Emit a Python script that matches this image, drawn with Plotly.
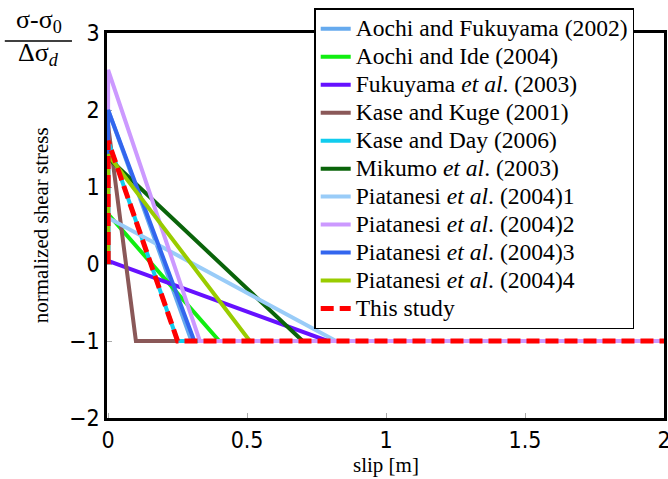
import plotly.graph_objects as go

# ---- data (slip [m], normalized shear stress) ----
names = [
    "Aochi and Fukuyama (2002)",
    "Aochi and Ide (2004)",
    "Fukuyama <i>et al</i>. (2003)",
    "Kase and Kuge (2001)",
    "Kase and Day (2006)",
    "Mikumo <i>et al</i>. (2003)",
    "Piatanesi <i>et al</i>. (2004)1",
    "Piatanesi <i>et al</i>. (2004)2",
    "Piatanesi <i>et al</i>. (2004)3",
    "Piatanesi <i>et al</i>. (2004)4",
    "This study",
]

x_aochi_fukuyama = [0, 0, 0.30, 2.0]
y_aochi_fukuyama = [0, 2.0, -1, -1]
x_aochi_ide = [0, 0, 0.40, 2.0]
y_aochi_ide = [0, 0.65, -1, -1]
x_fukuyama = [0, 0.79, 2.0]
y_fukuyama = [0.04, -1, -1]
x_kase_kuge = [0, 0, 0.10, 2.0]
y_kase_kuge = [0, 1.8, -1, -1]
x_kase_day = [0, 0, 0.25, 2.0]
y_kase_day = [0, 1.6, -1, -1]
x_mikumo = [0, 0, 0.70, 2.0]
y_mikumo = [0, 1.38, -1, -1]
x_piat1 = [0, 0, 0.82, 2.0]
y_piat1 = [0, 0.6, -1, -1]
x_piat2 = [0, 0, 0.33, 2.0]
y_piat2 = [0, 2.52, -1, -1]
x_piat3 = [0, 0, 0.31]
y_piat3 = [0, 2.0, -1]
x_piat4 = [0, 0, 0.51]
y_piat4 = [0, 1.42, -1]
x_this = [0, 0, 0.25, 2.0]
y_this = [0, 1.6, -1, -1]

xs = [x_aochi_fukuyama, x_aochi_ide, x_fukuyama, x_kase_kuge, x_kase_day,
      x_mikumo, x_piat1, x_piat2, x_piat3, x_piat4, x_this]
ys = [y_aochi_fukuyama, y_aochi_ide, y_fukuyama, y_kase_kuge, y_kase_day,
      y_mikumo, y_piat1, y_piat2, y_piat3, y_piat4, y_this]

colors = ["#66aaee", "#11ee11", "#6611ff", "#8a5858", "#11ccee",
          "#0a640a", "#99ccf8", "#cc99ff", "#3366ee", "#99cc00", "#ff0000"]

x_ticks = [0, 0.5, 1, 1.5, 2]
x_tick_labels = ["0", "0.5", "1", "1.5", "2"]
y_ticks = [-2, -1, 0, 1, 2, 3]
y_tick_labels = ["\u22122", "\u22121", "0", "1", "2", "3"]

serif = "Liberation Serif"

fig = go.Figure()
for n, x, y, c in zip(names, xs, ys, colors):
    if n == "This study":
        line = dict(color=c, width=5, dash="13px,6px")
    else:
        line = dict(color=c, width=4)
    fig.add_trace(go.Scatter(
        x=x, y=y, mode="lines", line=line,
        name="<span style='font-size:23.6px'>" + n + "</span>",
    ))

tickfont = dict(family="DejaVu Sans Condensed, Liberation Sans Narrow, Liberation Sans",
                size=23, color="black")

fig.update_layout(
    width=668, height=479,
    margin=dict(l=107, r=4, t=33, b=61),
    paper_bgcolor="white", plot_bgcolor="white",
    showlegend=True,
    legend=dict(
        x=0.372, y=1.064, xanchor="left", yanchor="top",
        bgcolor="white", bordercolor="black", borderwidth=1.5,
        font=dict(family=serif, size=19.2, color="black"),
        maxheight=460,
    ),
    xaxis=dict(
        range=[-0.004, 2.0], tickvals=x_ticks, ticktext=x_tick_labels,
        showgrid=False, zeroline=False, automargin=False,
        showline=True, linecolor="black", linewidth=2.5, mirror=True,
        ticks="inside", ticklen=5, tickcolor="#aaaaaa", tickwidth=1,
        tickfont=tickfont, layer="below traces", ticklabeloverflow="allow",
    ),
    yaxis=dict(
        range=[-2, 3], tickvals=y_ticks, ticktext=y_tick_labels,
        showgrid=False, zeroline=False, automargin=False,
        showline=True, linecolor="black", linewidth=2.5, mirror=True,
        ticks="inside", ticklen=5, tickcolor="#aaaaaa", tickwidth=1,
        tickfont=tickfont, layer="below traces", ticklabeloverflow="allow",
    ),
    annotations=[
        dict(text="normalized shear stress", xref="paper", yref="paper",
             x=-0.119, y=0.5, xanchor="center", yanchor="middle", textangle=-90,
             showarrow=False, font=dict(family=serif, size=21, color="black")),
        dict(text="slip [m]", xref="paper", yref="paper",
             x=0.5, y=-0.122, xanchor="center", yanchor="middle",
             showarrow=False, font=dict(family=serif, size=21, color="black")),
        dict(text="\u03c3-\u03c3<sub>0</sub>", xref="paper", yref="paper",
             x=-0.1223, y=1.032, xanchor="center", yanchor="middle",
             showarrow=False, font=dict(family=serif, size=26, color="black")),
        dict(text="\u0394\u03c3<sub><i>d</i></sub>", xref="paper", yref="paper",
             x=-0.1223, y=0.946, xanchor="center", yanchor="middle",
             showarrow=False, font=dict(family=serif, size=26, color="black")),
    ],
    shapes=[
        dict(type="line", xref="paper", yref="paper",
             x0=-0.1835, x1=-0.0629, y0=0.979, y1=0.979,
             line=dict(color="black", width=1.5)),
    ],
)

fig.write_html(
    "out.html",
    config={"displayModeBar": False},
    post_script="document.body.style.margin='0';document.body.style.padding='0';",
)
